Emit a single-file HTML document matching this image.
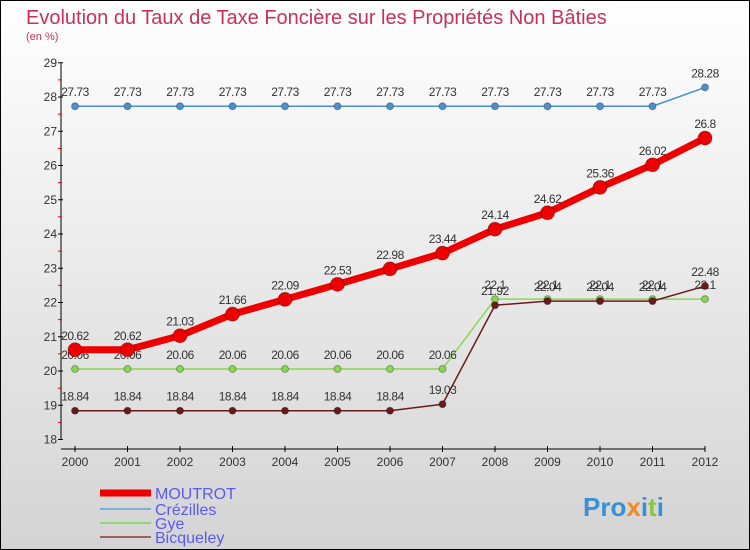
<!DOCTYPE html>
<html><head><meta charset="utf-8"><style>
body{margin:0;width:750px;height:550px;overflow:hidden}
svg{display:block;font-family:"Liberation Sans",sans-serif}
</style></head><body>
<svg id="c" width="750" height="550">
<defs><linearGradient id="bg" x1="0" y1="0" x2="0" y2="1"><stop offset="0" stop-color="#ffffff"/><stop offset="1" stop-color="#d4d4d4"/></linearGradient></defs>
<rect x="0.5" y="0.5" width="749" height="549" fill="url(#bg)" stroke="#000"/>
<text x="26" y="24" font-size="20" fill="#c8305a">Evolution du Taux de Taxe Foncière sur les Propriétés Non Bâties</text>
<text x="26" y="40" font-size="11" fill="#c8305a">(en %)</text>
<g id="axes"></g><g id="series"></g><g id="legend"></g>
<text x="583" y="516" font-size="26" font-weight="bold"><tspan fill="#3a8fd6">Pro</tspan><tspan fill="#f08a1c">x</tspan><tspan fill="#3a8fd6">i</tspan><tspan fill="#8cc63f">t</tspan><tspan fill="#3a8fd6">i</tspan></text>
</svg>
<script>
const years=[2000,2001,2002,2003,2004,2005,2006,2007,2008,2009,2010,2011,2012];
const yTicks=[18,19,20,21,22,23,24,25,26,27,28,29];
const moutrot=[20.62,20.62,21.03,21.66,22.09,22.53,22.98,23.44,24.14,24.62,25.36,26.02,26.8];
const crezilles=[27.73,27.73,27.73,27.73,27.73,27.73,27.73,27.73,27.73,27.73,27.73,27.73,28.28];
const gye=[20.06,20.06,20.06,20.06,20.06,20.06,20.06,20.06,22.1,22.1,22.1,22.1,22.1];
const bicqueley=[18.84,18.84,18.84,18.84,18.84,18.84,18.84,19.03,21.92,22.04,22.04,22.04,22.48];
const NS="http://www.w3.org/2000/svg";
const X=i=>75+i*52.5, Y=v=>439.5-(v-18)*34.25;
function mk(p,t,a){const e=document.createElementNS(NS,t);for(const k in a)e.setAttribute(k,a[k]);p.appendChild(e);return e;}
const ax=document.getElementById('axes');
let e=mk(ax,'line',{x1:61,y1:Y(29),x2:61,y2:Y(18),stroke:'#000'});


e=mk(ax,'line',{x1:61,y1:449,x2:X(12),y2:449,stroke:'#000'});


yTicks.forEach(v=>{
 mk(ax,'line',{x1:58,y1:Y(v),x2:63,y2:Y(v),stroke:'#000'});
 if(v<29)mk(ax,'line',{x1:58,y1:Y(v+0.5),x2:62,y2:Y(v+0.5),stroke:'#e00'});
 const t=mk(ax,'text',{x:57,y:Y(v)+4,'font-size':12,'text-anchor':'end',fill:'#333'});
 t.textContent=v;
 
 
});
years.forEach((y,i)=>{
 mk(ax,'line',{x1:X(i),y1:446,x2:X(i),y2:452,stroke:'#000'});
 const t=mk(ax,'text',{x:X(i),y:466,'font-size':12,'text-anchor':'middle',fill:'#333'});
 t.textContent=y;
 
 
});
const sg=document.getElementById('series');
function series(name,d,col,w,r){
 const g=mk(sg,'g',{});
 
 
 mk(g,'polyline',{points:d.map((v,i)=>X(i)+','+Y(v)).join(' '),fill:'none',stroke:col,'stroke-width':w,'stroke-linejoin':'round'});
 d.forEach((v,i)=>{
  const c=mk(g,'circle',{cx:X(i),cy:Y(v),r:r,fill:col,stroke:'rgba(0,0,0,0.3)'});
  
  
  const t=mk(g,'text',{x:X(i),y:Y(v)-10,'font-size':12,'text-anchor':'middle',fill:'#333','letter-spacing':'-0.5'});
  t.textContent=v;
  
  
 });
}
series('crezilles',crezilles,'#4a90d0',1.5,3.5);
series('gye',gye,'#88d850',1.5,3.5);
series('bicqueley',bicqueley,'#6a1a1a',1.5,3.5);
series('moutrot',moutrot,'#ee0000',7,7);
const lg=document.getElementById('legend');
[['MOUTROT','#ee0000',7,493],['Crézilles','#7ab0d8',2,509],['Gye','#90d870',2,523],['Bicqueley','#9a6060',2,537]].forEach(([n,c,w,y])=>{
 const g=mk(lg,'g',{});
 
 
 mk(g,'line',{x1:100,y1:y,x2:151,y2:y,stroke:c,'stroke-width':w});
 const t=mk(g,'text',{x:155,y:y+6,'font-size':16,fill:'#5a5af0'});
 t.textContent=n;
});
</script>
</body></html>
